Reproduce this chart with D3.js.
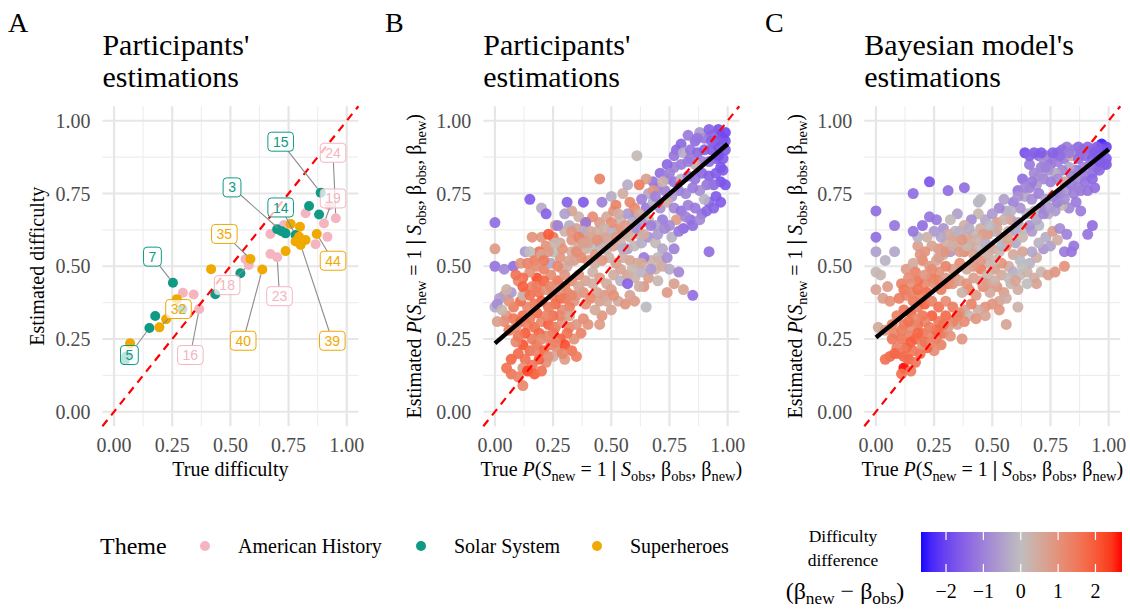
<!DOCTYPE html>
<html>
<head>
<meta charset="utf-8">
<script src="https://cdn.jsdelivr.net/npm/d3@7"></script>
<style>
body{margin:0;background:#fff;}
text{font-family:"Liberation Serif","Times New Roman",serif;}
text.repel{font-family:"Liberation Sans",Arial,sans-serif;}
</style>
</head>
<body>
<div id="graph"></div>
<script>
// ---------- data ----------
var themes = ["American History", "Solar System", "Superheroes"];

// panel A : [true difficulty, estimated difficulty]
var americanHistory = [[.953,.665],[.902,.647],[.823,.682],[.917,.601],[.866,.576],[.730,.642],[.672,.611],[.672,.542],[.701,.531],[.565,.524],[.579,.504],[.296,.409],[.342,.403],[.366,.353],[.925,.710]];
var solarSystem = [[.888,.753],[.838,.707],[.881,.678],[.701,.627],[.737,.613],[.780,.607],[.720,.620],[.253,.443],[.177,.329],[.152,.288],[.294,.353],[.435,.404],[.543,.476],[.047,.178],[.052,.190]];
var superheroes = [[.759,.645],[.799,.636],[.795,.601],[.823,.590],[.802,.573],[.871,.611],[.737,.552],[.586,.525],[.637,.489],[.417,.490],[.270,.387],[.224,.318],[.195,.290],[.069,.235],[.780,.585]];

// labelled items : [item id, theme index, true, estimated, label true, label estimated]
var labelledItems = [
  [15,1,.888,.753,.716,.928],[24,0,.953,.665,.941,.890],[3,1,.720,.620,.507,.771],
  [19,0,.902,.647,.941,.733],[14,1,.780,.607,.716,.702],[35,2,.586,.525,.474,.611],
  [44,2,.871,.611,.941,.519],[7,1,.253,.443,.165,.533],[18,0,.579,.504,.486,.435],
  [23,0,.701,.531,.711,.397],[32,2,.195,.290,.277,.353],[40,2,.637,.489,.555,.244],
  [39,2,.802,.573,.938,.244],[5,1,.152,.288,.066,.195],[16,0,.366,.353,.328,.195]
];

var tickValues = [0, .25, .5, .75, 1];
var minorTicks = [.125, .375, .625, .875];
var legendTicks = [-2, -1, 0, 1, 2];
var diffRange = [-2.67, 2.71];

// panel B : [true P, participants' estimated P, difficulty difference]
var participantsB = [
[.97,.95,-1.8],[.98,.94,-1.8],[.99,.93,-1.7],[.96,.97,-1.8],[.95,.93,-1.6],[.93,.95,-1.4],[.90,.94,-1.2],[.88,.96,-0.6],[.86,.93,-1.3],[.83,.95,-1.1],[.80,.92,-1.4],[.78,.90,-1.4],[.77,.88,-1.2],[.81,.89,-0.3],[.84,.90,-1.2],[.87,.89,-1.4],[.90,.90,-1.5],[.93,.90,-1.6],[.96,.91,-1.7],[.99,.90,-1.6],[.98,.87,-1.6],[.95,.87,-1.6],[.92,.86,-1.3],[.89,.86,-1.0],[.86,.85,0.3],[.83,.86,-1.0],[.80,.85,-1.1],[.77,.84,-1.0],[.74,.85,-1.4],[.71,.82,-1.3],[.74,.80,-0.8],[.77,.79,-1.2],[.80,.80,-0.2],[.83,.81,-1.0],[.86,.80,-1.2],[.89,.82,-1.4],[.92,.81,-1.5],[.95,.82,-1.6],[.98,.83,-1.6],[.97,.79,-1.8],[.94,.78,-1.4],[.91,.78,-1.2],[.88,.76,-0.8],[.85,.77,-1.1],[.82,.75,-0.9],[.79,.76,-1.0],[.76,.74,-0.6],[.73,.76,-1.0],[.70,.77,-0.9],[.68,.79,-1.2],[.66,.75,-0.4],[.63,.73,-1.0],[.65,.70,-1.1],[.68,.72,-0.3],[.71,.70,-0.7],[.74,.72,0.4],[.77,.70,-0.9],[.80,.69,-1.2],[.83,.71,-1.0],[.86,.70,-1.1],[.89,.68,-1.2],[.92,.72,-1.4],[.95,.74,-1.6],[.90,.73,-0.2],[.84,.66,-1.3],[.81,.63,-1.4],[.78,.66,0.8],[.75,.64,-0.8],[.72,.66,-1.1],[.69,.64,-0.5],[.66,.66,0.2],[.63,.65,-0.6],[.60,.67,-0.9],[.96,.88,-1.8],[.99,.96,-1.9],[.92,.97,-1.5],
[.62,.61,0.2],[.59,.63,0.5],[.56,.61,0.9],[.53,.63,1.1],[.50,.62,-0.2],[.47,.60,0.8],[.44,.62,0.4],[.41,.60,0.7],[.38,.61,1.0],[.35,.63,0.6],[.32,.64,-0.3],[.30,.62,0.3],[.33,.59,0.9],[.36,.57,0.5],[.39,.56,0.3],[.42,.57,0.0],[.45,.58,-0.4],[.48,.56,0.2],[.51,.57,0.6],[.54,.58,0.3],[.57,.56,-0.5],[.60,.57,0.1],[.63,.58,-0.3],[.66,.60,-0.7],[.69,.58,0.1],[.72,.56,-0.4],[.70,.53,-0.1],[.67,.52,0.3],[.64,.53,-1.1],[.61,.51,0.5],[.58,.52,0.6],[.55,.53,0.4],[.52,.51,0.7],[.49,.53,0.3],[.46,.52,0.9],[.43,.51,0.5],[.40,.52,0.8],[.37,.53,1.2],[.34,.52,0.7],[.31,.50,0.4],[.28,.53,0.9],[.25,.55,0.0],[.28,.58,0.6],[.22,.57,1.0],[.25,.60,1.5],[.26,.64,0.7],[.20,.60,0.9],[.16,.60,1.0],[.19,.55,1.6],[.13,.55,-0.6],[.45,.65,0.8],[.48,.67,0.5],[.51,.69,1.0],[.54,.66,0.2],[.57,.68,-0.6],[.60,.70,1.2],[.42,.67,1.1],[.39,.65,1.8],[.36,.67,0.3],[.33,.69,0.6],[.30,.68,-0.5],[.46,.72,-1.0],[.50,.74,-0.3],[.55,.75,0.4],[.58,.72,1.2],[.65,.80,0.7],[.57,.78,-0.3],[.45,.80,1.3],[.61,.88,0.1],[.62,.78,1.4],[.68,.76,0.9],[.52,.71,1.3],
[.36,.47,1.0],[.39,.45,0.6],[.42,.48,0.3],[.45,.46,0.8],[.48,.44,0.5],[.51,.47,0.4],[.54,.45,-0.2],[.57,.47,0.6],[.60,.46,0.3],[.63,.48,-0.2],[.66,.46,0.7],[.69,.49,0.3],[.72,.50,0.5],[.75,.49,-0.3],[.64,.43,0.9],[.57,.44,-1.5],[.50,.42,0.7],[.47,.40,0.9],[.44,.41,0.6],[.41,.39,1.2],[.38,.41,1.0],[.35,.40,0.8],[.53,.38,0.5],[.56,.37,0.9],[.60,.38,0.8],[.65,.36,-0.1],[.50,.35,0.6],[.46,.33,0.9],[.43,.35,0.5],[.74,.41,0.8],[.77,.44,0.7],[.81,.42,0.6],[.85,.40,-1.3],[.92,.55,-1.3],[.79,.48,-0.9],[.70,.45,0.2],
[.33,.45,1.1],[.30,.43,1.4],[.27,.45,1.5],[.24,.47,1.1],[.21,.49,1.3],[.18,.46,2.2],[.15,.48,1.0],[.12,.46,1.7],[.10,.45,1.2],[.13,.41,1.5],[.16,.43,1.3],[.19,.41,1.6],[.22,.42,1.0],[.25,.40,1.3],[.28,.39,1.6],[.31,.41,1.2],[.34,.38,0.9],[.32,.36,1.4],[.29,.35,1.1],[.26,.37,1.7],[.23,.36,1.4],[.20,.38,1.9],[.17,.37,1.5],[.14,.36,1.2],[.11,.38,1.7],[.08,.36,1.4],[.06,.38,1.0],[.04,.40,0.8],[.02,.39,-0.5],[.05,.33,0.9],[.08,.32,1.5],[.11,.31,1.8],[.14,.30,1.3],[.17,.29,1.6],[.20,.31,1.2],[.23,.30,1.9],[.26,.29,1.4],[.29,.31,1.0],[.32,.29,1.2],[.35,.30,0.9],[.38,.32,1.1],[.37,.27,1.3],[.34,.25,1.0],[.31,.27,1.6],[.28,.25,1.9],[.25,.27,1.5],[.22,.26,1.2],[.19,.27,1.8],[.16,.25,1.4],[.13,.27,2.0],[.12,.23,2.1],[.15,.21,1.7],[.18,.23,1.5],[.21,.21,1.8],[.24,.23,1.3],[.27,.21,1.1],[.30,.23,2.2],[.33,.21,1.6],[.30,.18,0.8],[.35,.19,1.4],[.25,.19,0.4],[.22,.17,1.1],[.19,.18,1.9],[.16,.16,1.5],[.13,.18,1.6],[.10,.20,1.7],[.07,.18,1.8],[.05,.15,1.6],[.07,.13,1.5],[.10,.12,1.3],[.12,.09,1.2],[.12,.15,1.0],[.14,.14,2.3],[.17,.13,2.0],[.20,.14,1.6],[.09,.24,1.2],[.04,.31,1.1],[.01,.31,0.7],[.00,.36,-0.3],[.01,.37,-0.8],[.03,.35,0.2],[.06,.28,1.4],[.00,.65,-1.3],[.00,.50,-1.2],[.00,.56,0.8],[.04,.49,-0.9],[.08,.50,-1.3],[.07,.41,-0.6],[.05,.42,0.3],[.15,.73,-1.6],[.20,.70,-0.3],[.22,.68,-1.5],[.27,.64,-1.0],[.31,.72,-1.5],[.38,.72,-1.6],[.39,.65,-1.1],[.38,.62,-0.3],[.33,.62,0.9],[.12,.40,0.2],[.15,.55,0.0],[.11,.51,0.9],[.09,.47,1.6],[.24,.51,-0.4],[.29,.49,0.3],[.17,.52,1.4],[.20,.54,0.6],[.23,.61,2.0],
[.27,.50,1.2],[.30,.47,0.9],[.33,.55,0.4],[.36,.60,1.3],[.40,.58,0.6],[.43,.54,0.9],[.46,.56,0.2],[.49,.59,0.5],[.52,.60,0.8],[.55,.56,-0.3],[.58,.60,0.3],[.61,.63,-0.8],[.64,.61,0.4],[.67,.64,-1.0],[.70,.61,-0.6],[.73,.63,-0.9],[.76,.60,-0.2],[.79,.62,-1.2],[.82,.67,-1.0],[.85,.64,-1.3],[.88,.66,-0.9],[.91,.69,-1.4],[.94,.70,-1.5],[.97,.72,-1.6],[.99,.78,-1.7],[.97,.84,-1.7],[.93,.93,-1.5],[.87,.94,-1.2],[.84,.87,-1.1],[.75,.82,-1.0],[.72,.79,0.3],[.69,.74,-1.0],[.62,.68,0.5],[.59,.65,-0.2],[.56,.64,0.8],[.53,.68,0.4],[.50,.65,1.1],[.47,.63,0.3],[.44,.59,1.0],[.41,.62,0.5],[.38,.58,0.7],[.35,.55,1.1],[.32,.52,0.6],[.29,.56,1.0],[.26,.58,0.2],[.23,.55,0.8],[.21,.52,1.5],[.18,.50,1.1],[.14,.51,1.3],[.12,.43,1.9],[.15,.40,1.6],[.18,.43,1.4],[.21,.45,1.8],[.24,.43,1.2],[.27,.42,0.9],[.30,.39,1.5],[.33,.40,1.2],[.36,.43,0.6],[.39,.37,1.0],[.42,.44,0.4],[.45,.38,0.7],[.48,.38,0.5],[.51,.40,1.0],[.54,.49,0.6],[.59,.49,0.2],[.63,.51,0.5],[.67,.49,-0.6],[.71,.52,0.3],[.74,.53,-0.8],[.77,.56,-1.0],[.62,.43,0.4],[.58,.40,0.6],[.45,.30,0.8],[.40,.30,1.0],[.28,.33,1.2],[.25,.33,1.6],[.22,.33,1.3],[.18,.34,1.7],[.15,.32,1.4],[.12,.33,1.6],[.09,.29,1.1],[.10,.26,1.5],[.17,.21,1.3],[.23,.19,1.0],[.20,.25,1.1],[.26,.24,1.3],[.29,.20,1.2],[.32,.33,0.7]
];

// panel C : [true P, model's estimated P, difficulty difference]
var modelC = [
[.97,.92,-2.5],[.99,.91,-2.0],[.98,.90,-1.8],[.95,.91,-1.6],[.93,.90,-1.5],[.91,.91,-1.4],[.89,.90,-1.3],[.87,.91,-1.4],[.85,.90,-1.2],[.82,.91,-1.1],[.80,.90,-1.3],[.78,.89,-1.4],[.76,.87,-1.0],[.73,.88,-1.1],[.70,.88,-1.3],[.64,.89,-1.8],[.68,.89,-1.6],[.72,.87,-0.8],[.75,.85,-1.2],[.78,.86,-1.0],[.81,.87,-1.1],[.84,.88,0.5],[.87,.87,-1.3],[.90,.88,-1.4],[.93,.87,-1.6],[.96,.88,-1.7],[.99,.87,-1.6],[.98,.85,-1.5],[.95,.84,-1.4],[.92,.85,-1.2],[.89,.84,-1.0],[.86,.83,-1.1],[.83,.84,-0.4],[.80,.83,-0.9],[.77,.82,-0.3],[.74,.83,-0.7],[.71,.84,-1.0],[.68,.82,-0.9],[.66,.85,-1.1],[.93,.82,-1.3],[.96,.83,-1.4],[.99,.85,-1.6],[.90,.81,-1.1],[.87,.80,-0.9],[.84,.81,-1.0],[.81,.79,0.6],[.78,.80,-0.8],[.75,.79,-1.0],[.72,.80,-0.9],[.69,.78,-0.6],[.66,.77,-1.0],[.63,.80,-1.3],[.61,.76,-1.2],[.64,.74,-0.4],[.67,.73,-0.8],[.70,.75,-1.0],[.73,.73,-0.5],[.76,.74,-0.9],[.79,.75,-1.1],[.82,.76,-0.7],[.85,.75,-1.0],[.88,.76,-1.1],[.91,.76,-1.2],[.94,.77,-1.3],[.86,.72,-1.1],[.83,.70,-0.9],[.80,.71,0.2],[.77,.69,-0.6],[.74,.68,-0.3],[.71,.70,-1.0],[.68,.69,0.1],[.65,.68,-0.2],[.62,.70,-0.7],[.59,.72,-1.0],[.56,.69,-0.3],[.53,.70,-0.9],[.55,.73,-0.5],[.58,.66,0.7],[.61,.65,-0.5],[.64,.63,0.2],[.67,.62,-0.6],[.70,.64,-0.1],[.73,.60,-0.3],[.76,.62,0.8],[.79,.63,-0.8],[.82,.61,-1.0],[.85,.57,-1.2],[.81,.55,-1.1],[.93,.64,-1.3],[.91,.61,-1.2],[.88,.69,-1.1],[.72,.56,-0.7],[.69,.53,0.4],[.66,.51,-0.2],[.63,.55,0.6],[.60,.58,-0.4],
[.57,.62,0.3],[.54,.60,0.5],[.51,.62,-0.2],[.48,.61,0.9],[.45,.63,0.4],[.42,.61,0.2],[.39,.60,0.6],[.36,.62,-0.3],[.33,.60,0.8],[.30,.58,0.4],[.27,.56,0.9],[.24,.57,0.6],[.21,.55,1.0],[.18,.57,0.7],[.20,.52,1.2],[.23,.50,0.8],[.26,.52,0.5],[.29,.54,0.2],[.32,.55,-0.6],[.35,.57,0.3],[.38,.55,1.2],[.41,.57,0.8],[.44,.56,0.1],[.47,.58,-0.3],[.50,.56,0.6],[.53,.55,0.2],[.56,.57,1.1],[.59,.54,0.5],[.62,.52,-0.1],[.57,.50,0.4],[.54,.51,1.0],[.51,.49,0.7],[.48,.51,0.3],[.45,.49,1.4],[.42,.50,0.9],[.39,.49,0.5],[.36,.51,1.1],[.33,.49,0.7],[.30,.50,1.3],[.27,.48,1.0],[.24,.46,1.5],[.21,.44,1.2],[.18,.45,1.6],[.15,.44,1.0],[.13,.49,0.8],[.16,.51,0.5],[.11,.44,1.3],[.47,.66,-0.4],[.44,.68,0.2],[.41,.66,-0.8],[.38,.64,0.4],[.44,.72,-0.2],[.50,.68,-0.6],[.52,.65,0.8],[.35,.68,-0.5],[.32,.66,0.1],[.29,.63,-0.7],[.26,.66,-1.1],[.23,.67,-1.2],[.20,.64,-1.3],[.18,.60,-0.2],[.16,.62,-1.2],[.16,.75,-1.3],[.23,.79,-1.7],[.31,.76,-1.3],[.38,.77,-1.3],[.45,.73,-0.1],[.08,.64,-1.2],[.00,.69,-1.3],[.00,.60,-1.3],[.00,.55,-0.5],[.04,.52,-0.2],[.08,.55,-0.4],[.00,.48,0.1],[.02,.47,0.2],[.05,.43,0.8],[.00,.42,0.6],[.03,.39,0.7],[.06,.38,1.0],[.01,.29,0.5],[.04,.28,0.8],[.07,.30,1.3],
[.59,.48,-0.3],[.62,.47,0.1],[.65,.48,0.3],[.68,.46,0.4],[.71,.48,0.2],[.74,.47,0.7],[.69,.44,0.6],[.65,.44,0.0],[.61,.42,0.4],[.58,.44,0.2],[.55,.41,0.7],[.52,.43,0.9],[.49,.41,0.5],[.46,.43,1.1],[.43,.40,0.8],[.40,.42,1.2],[.37,.41,0.3],[.53,.38,0.6],[.56,.39,0.4],[.50,.37,0.9],[.47,.36,1.0],[.44,.35,0.4],[.41,.37,1.3],[.38,.35,0.7],[.40,.33,0.2],[.35,.30,0.6],[.56,.30,0.6],[.77,.48,0.9],[.81,.50,1.0],[.84,.55,-1.2],[.61,.36,0.3],[.48,.47,0.2],
[.34,.46,1.2],[.31,.44,1.5],[.28,.42,1.4],[.25,.44,1.1],[.22,.41,1.7],[.19,.40,1.3],[.16,.38,1.5],[.13,.40,1.2],[.10,.39,1.4],[.12,.35,1.6],[.15,.34,1.8],[.18,.36,1.4],[.21,.37,1.9],[.24,.38,1.3],[.27,.36,1.6],[.30,.38,1.1],[.33,.36,1.4],[.36,.34,1.0],[.33,.31,1.3],[.30,.33,1.7],[.27,.31,1.5],[.24,.33,1.9],[.21,.31,1.2],[.18,.30,1.6],[.15,.29,1.1],[.12,.30,1.4],[.09,.33,1.3],[.08,.27,1.2],[.11,.25,1.5],[.14,.26,1.3],[.17,.25,1.7],[.20,.27,1.5],[.23,.26,1.2],[.26,.25,1.4],[.29,.27,1.6],[.32,.26,1.0],[.28,.23,1.3],[.25,.21,1.1],[.22,.22,1.8],[.19,.20,1.6],[.16,.21,1.5],[.13,.22,1.7],[.10,.20,1.4],[.09,.22,1.3],[.06,.19,1.7],[.04,.18,1.6],[.12,.15,2.7],[.14,.18,1.9],[.17,.17,1.5],[.11,.13,1.6],[.15,.14,1.4],[.20,.23,1.0],[.31,.29,0.8],[.37,.25,0.9],[.07,.25,1.5],
[.27,.53,0.7],[.30,.55,0.9],[.33,.57,0.4],[.36,.55,0.8],[.39,.57,0.2],[.42,.54,0.6],[.45,.52,0.9],[.48,.54,0.4],[.51,.52,0.2],[.54,.57,-0.2],[.57,.59,0.6],[.60,.62,-0.4],[.63,.60,0.2],[.66,.64,-0.7],[.69,.66,-0.4],[.72,.68,-0.9],[.75,.70,-0.6],[.78,.72,-1.0],[.81,.73,-0.8],[.84,.78,-1.1],[.87,.77,-1.0],[.90,.79,-1.2],[.93,.80,-1.4],[.96,.86,-1.6],[.94,.89,-1.6],[.88,.89,-1.3],[.83,.89,-1.1],[.79,.88,-1.3],[.76,.89,-1.5],[.71,.89,-1.6],[.66,.88,-1.5],[.73,.84,-1.0],[.70,.81,-0.8],[.67,.79,-1.1],[.64,.77,-0.9],[.61,.74,-0.7],[.58,.69,-0.2],[.55,.66,0.3],[.52,.63,0.5],[.49,.64,-0.1],[.46,.61,0.7],[.43,.59,0.3],[.40,.63,-0.3],[.37,.59,0.9],[.34,.62,-0.2],[.31,.61,0.5],[.28,.60,-0.4],[.25,.62,-0.6],[.22,.60,0.3],[.19,.54,0.9],[.17,.48,1.3],[.14,.46,1.1],[.12,.42,1.5],[.15,.41,1.3],[.18,.42,1.6],[.21,.47,0.9],[.24,.49,1.1],[.27,.45,1.3],[.30,.46,0.8],[.33,.44,1.0],[.36,.45,0.6],[.39,.44,1.0],[.42,.46,0.7],[.45,.45,0.5],[.48,.44,0.8],[.51,.45,0.3],[.54,.47,0.5],[.57,.46,0.1],[.60,.45,0.6],[.63,.50,0.0],[.67,.55,-0.4],[.70,.58,-0.2],[.75,.57,-0.5],[.78,.59,0.4],[.53,.35,0.9],[.47,.33,0.6],[.43,.32,0.9],[.38,.31,1.1],[.35,.33,1.3],[.29,.30,1.6],[.26,.28,1.8],[.23,.29,1.4],[.20,.33,1.5],[.17,.32,1.2],[.14,.31,1.6],[.11,.28,1.4],[.18,.27,1.8],[.21,.24,1.6],[.24,.24,1.2],[.15,.24,1.9],[.12,.19,1.7],[.08,.20,1.8]
];

// lm fits: [intercept, slope]
var fitB = [0.235, 0.685];
var fitC = [0.255, 0.647];

// ---------- drawing ----------
var svgWidth = 1130, svgHeight = 611;
var themeColors = ["#F4B5C0", "#0F9A85", "#EFA900"];
var gridMajor = "#e6e6e6", gridMinor = "#eeeeee";
var tickColor = "#4d4d4d";

var $svg = d3.select("#graph").append("svg")
    .attr("width", svgWidth).attr("height", svgHeight);

var colorScale = function(d){
    var grey = "#bebebe";
    if (d < 0) return d3.interpolateLab(grey, "#0000ff")(Math.min(1, -d/diffRange[1]));
    return d3.interpolateLab(grey, "#ff0000")(Math.min(1, d/diffRange[1]));
};

var panelTop = 106.2, panelBottom = 426.3, panelW = 256;

function makePanel(left, tag, tagX, title){
    var x = d3.scaleLinear().domain([-0.05, 1.05]).range([left, left+panelW]);
    var y = d3.scaleLinear().domain([-0.05, 1.05]).range([panelBottom, panelTop]);
    var g = $svg.append("g");
    minorTicks.forEach(function(t){
        g.append("line").attr("x1", x(t)).attr("x2", x(t)).attr("y1", panelTop).attr("y2", panelBottom)
            .attr("stroke", gridMinor).attr("stroke-width", 1.1);
        g.append("line").attr("x1", left).attr("x2", left+panelW).attr("y1", y(t)).attr("y2", y(t))
            .attr("stroke", gridMinor).attr("stroke-width", 1.1);
    });
    tickValues.forEach(function(t){
        g.append("line").attr("x1", x(t)).attr("x2", x(t)).attr("y1", panelTop).attr("y2", panelBottom)
            .attr("stroke", gridMajor).attr("stroke-width", 2.2);
        g.append("line").attr("x1", left).attr("x2", left+panelW).attr("y1", y(t)).attr("y2", y(t))
            .attr("stroke", gridMajor).attr("stroke-width", 2.2);
        g.append("text").attr("x", x(t)).attr("y", 452).attr("text-anchor", "middle")
            .attr("font-size", 20).attr("fill", tickColor).text(d3.format(".2f")(t));
        g.append("text").attr("x", left-12).attr("y", y(t)).attr("dy", "0.35em").attr("text-anchor", "end")
            .attr("font-size", 20).attr("fill", tickColor).text(d3.format(".2f")(t));
    });
    $svg.append("text").attr("x", tagX).attr("y", 32).attr("font-size", 28).text(tag);
    title.forEach(function(line, i){
        $svg.append("text").attr("x", left).attr("y", 55 + i*32).attr("font-size", 30).text(line);
    });
    return {x:x, y:y, g:g, left:left};
}

function identityLine(p){
    p.g.append("line")
        .attr("x1", p.x(-0.05)).attr("y1", p.y(-0.05))
        .attr("x2", p.x(1.05)).attr("y2", p.y(1.05))
        .attr("stroke", "#ff0000").attr("stroke-width", 2.2).attr("stroke-dasharray", "8,6");
}

function mathText(sel, parts){
    var shifted = false;
    parts.forEach(function(p){
        var s = sel.append("tspan").text(p[0]);
        if (p[1] == "i") s.attr("font-style", "italic");
        if (p[1] == "b") s.attr("font-weight", "bold");
        if (p[1] == "sub") {
            s.attr("font-size", "0.72em");
            if (!shifted) s.attr("dy", 5);
            shifted = true;
        } else if (shifted) {
            s.attr("dy", -5);
            shifted = false;
        }
    });
}

var probParts = [["P","i"],["(",""],["S","i"],["new","sub"],[" = 1 ",""],["|","b"],[" ",""],["S","i"],["obs","sub"],[", β",""],["obs","sub"],[", β",""],["new","sub"],[")",""]];

// ---- panel A ----
var pA = makePanel(102.4, "A", 8, ["Participants'", "estimations"]);
[americanHistory, solarSystem, superheroes].forEach(function(arr, k){
    pA.g.selectAll(null).data(arr).enter().append("circle")
        .attr("cx", d=>pA.x(d[0])).attr("cy", d=>pA.y(d[1])).attr("r", 5)
        .attr("fill", themeColors[k]);
});
identityLine(pA);

var labelG = pA.g.append("g");
var boxes = labelledItems.map(function(d){
    var t = labelG.append("text").attr("class", "repel").attr("font-size", 14)
        .attr("text-anchor", "middle").text(d[0]);
    var w = t.node().getComputedTextLength() + 10;
    t.remove();
    return {d:d, w:w, h:19, cx:pA.x(d[4]), cy:pA.y(d[5]), px:pA.x(d[2]), py:pA.y(d[3])};
});
boxes.forEach(function(b){
    var vx = b.px - b.cx, vy = b.py - b.cy;
    var t = Math.min(Math.abs(vx) > 0 ? (b.w/2)/Math.abs(vx) : 1e9, Math.abs(vy) > 0 ? (b.h/2)/Math.abs(vy) : 1e9);
    if (t >= 1) return;
    var len = Math.sqrt(vx*vx+vy*vy);
    var ex = b.cx + vx*t, ey = b.cy + vy*t;
    var sx = b.px - vx/len*5, sy = b.py - vy/len*5;
    labelG.append("line").attr("x1", ex).attr("y1", ey).attr("x2", sx).attr("y2", sy)
        .attr("stroke", "#8c8c8c").attr("stroke-width", 1.1);
});
boxes.forEach(function(b){
    labelG.append("rect").attr("x", b.cx-b.w/2).attr("y", b.cy-b.h/2).attr("width", b.w).attr("height", b.h)
        .attr("rx", 3.5).attr("fill", "rgba(255,255,255,0.72)")
        .attr("stroke", themeColors[b.d[1]]).attr("stroke-width", 1);
    labelG.append("text").attr("class", "repel").attr("font-size", 14)
        .attr("text-anchor", "middle").attr("x", b.cx).attr("y", b.cy).attr("dy", "0.36em")
        .attr("fill", themeColors[b.d[1]]).text(b.d[0]);
});

$svg.append("text").attr("x", pA.left + panelW/2).attr("y", 476).attr("text-anchor", "middle")
    .attr("font-size", 20).text("True difficulty");
$svg.append("text").attr("transform", "translate(44," + (panelTop+panelBottom)/2 + ") rotate(-90)")
    .attr("text-anchor", "middle").attr("font-size", 20).text("Estimated difficulty");

// ---- panels B and C ----
function scatterPanel(left, tag, tagX, title, data, fit){
    var p = makePanel(left, tag, tagX, title);
    p.g.selectAll(null).data(data).enter().append("circle")
        .attr("cx", d=>p.x(d[0])).attr("cy", d=>p.y(d[1])).attr("r", 5.5)
        .attr("fill", d=>colorScale(d[2])).attr("fill-opacity", 0.92);
    identityLine(p);
    p.g.append("line")
        .attr("x1", p.x(0)).attr("y1", p.y(fit[0]))
        .attr("x2", p.x(1)).attr("y2", p.y(fit[0] + fit[1]))
        .attr("stroke", "#000").attr("stroke-width", 4.4);
    var xt = $svg.append("text").attr("x", left + panelW/2).attr("y", 476)
        .attr("text-anchor", "middle").attr("font-size", 20);
    mathText(xt, [["True ",""]].concat(probParts));
    var yt = $svg.append("text").attr("transform", "translate(" + (left-62) + "," + (panelTop+panelBottom)/2 + ") rotate(-90)")
        .attr("text-anchor", "middle").attr("font-size", 20);
    mathText(yt, [["Estimated ",""]].concat(probParts));
}
scatterPanel(483.3, "B", 385, ["Participants'", "estimations"], participantsB, fitB);
scatterPanel(864.3, "C", 765, ["Bayesian model's", "estimations"], modelC, fitC);

// ---- theme legend ----
var legX = [205, 421, 597];
$svg.append("text").attr("x", 100).attr("y", 554).attr("font-size", 24).text("Theme");
themes.forEach(function(t, i){
    $svg.append("circle").attr("cx", legX[i]).attr("cy", 546).attr("r", 5).attr("fill", themeColors[i]);
    $svg.append("text").attr("x", legX[i] + 33).attr("y", 553).attr("font-size", 20).text(t);
});

// ---- colour bar legend ----
var barX = d3.scaleLinear().domain(diffRange).range([921, 1122]);
var grad = $svg.append("defs").append("linearGradient").attr("id", "diffGrad");
d3.range(0, 1.0001, 0.05).forEach(function(t){
    grad.append("stop").attr("offset", t).attr("stop-color", colorScale(diffRange[0] + t*(diffRange[1]-diffRange[0])));
});
$svg.append("rect").attr("x", 921).attr("y", 532).attr("width", 201).attr("height", 40).attr("fill", "url(#diffGrad)");
legendTicks.forEach(function(t){
    $svg.append("line").attr("x1", barX(t)).attr("x2", barX(t)).attr("y1", 532).attr("y2", 540)
        .attr("stroke", "#fff").attr("stroke-width", 1.2);
    $svg.append("line").attr("x1", barX(t)).attr("x2", barX(t)).attr("y1", 564).attr("y2", 572)
        .attr("stroke", "#fff").attr("stroke-width", 1.2);
    $svg.append("text").attr("x", barX(t)).attr("y", 598).attr("text-anchor", "middle")
        .attr("font-size", 20).text(t < 0 ? "\u2212" + Math.abs(t) : t);
});
$svg.append("text").attr("x", 843).attr("y", 542).attr("text-anchor", "middle").attr("font-size", 17.5).text("Difficulty");
$svg.append("text").attr("x", 843).attr("y", 566).attr("text-anchor", "middle").attr("font-size", 17.5).text("difference");
var lt = $svg.append("text").attr("x", 845).attr("y", 599).attr("text-anchor", "middle").attr("font-size", 24);
mathText(lt, [["(β",""],["new","sub"],[" \u2212 β",""],["obs","sub"],[")",""]]);
</script>
</body>
</html>
